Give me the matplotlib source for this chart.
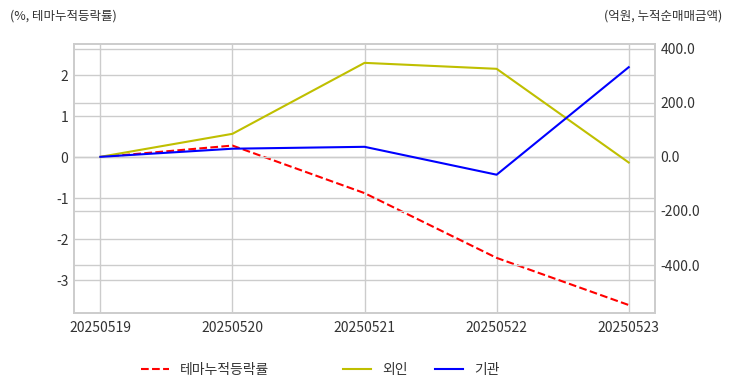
import matplotlib
matplotlib.use("Agg")
import matplotlib.pyplot as plt
from matplotlib.ticker import MultipleLocator, FormatStrFormatter

# data
dates = ['20250519', '20250520', '20250521', '20250522', '20250523']
theme_rate = [0.0, 0.28, -0.88, -2.46, -3.61]      # %, left axis
foreign = [0.0, 85.0, 347.0, 325.0, -21.0]          # 억원, right axis
institution = [0.0, 30.0, 37.0, -66.0, 331.0]      # 억원, right axis

plt.rcParams['font.family'] = ['Noto Sans CJK KR', 'DejaVu Sans']
plt.rcParams['axes.unicode_minus'] = False

grid_c = '#cccccc'
text_c = '#333333'

fig = plt.figure(figsize=(7.32, 3.92), dpi=100)
ax = fig.add_axes([0.101, 0.202, 0.794, 0.686])
ax2 = ax.twinx()

l1, = ax.plot(dates, theme_rate, color='r', linestyle='--', lw=1.5, label='테마누적등락률')
l2, = ax2.plot(dates, foreign, color='y', lw=1.5, label='외인')
l3, = ax2.plot(dates, institution, color='b', lw=1.5, label='기관')

ax.set_xlim(-0.2, 4.2)
ax.set_ylim(-3.80, 2.76)
ax2.set_ylim(-576, 417)
ax.yaxis.set_major_locator(MultipleLocator(1))
ax2.yaxis.set_major_locator(MultipleLocator(200))
ax2.yaxis.set_major_formatter(FormatStrFormatter('%.1f'))

for a in (ax, ax2):
    a.grid(True, color=grid_c, lw=1)
    a.set_axisbelow(True)
    a.tick_params(length=0, labelsize=10, labelcolor=text_c, pad=4)
    for s in a.spines.values():
        s.set_color(grid_c)
        s.set_linewidth(1.2)
ax2.grid(axis='x', visible=False)
ax.tick_params(axis='x', pad=6)
ax.set_facecolor('white')

fig.text(0.014, 0.958, '(%, 테마누적등락률)', fontsize=9, color=text_c, va='center', ha='left')
fig.text(0.987, 0.958, '(억원, 누적순매매금액)', fontsize=9, color=text_c, va='center', ha='right')

fig.legend(handles=[l1], loc='center left', bbox_to_anchor=(0.1754, 0.0570),
           frameon=False, fontsize=10, labelcolor=text_c)
fig.legend(handles=[l2, l3], loc='center left', bbox_to_anchor=(0.4514, 0.0570),
           ncol=2, frameon=False, fontsize=10, labelcolor=text_c)

fig.savefig('out.png', dpi=100)
